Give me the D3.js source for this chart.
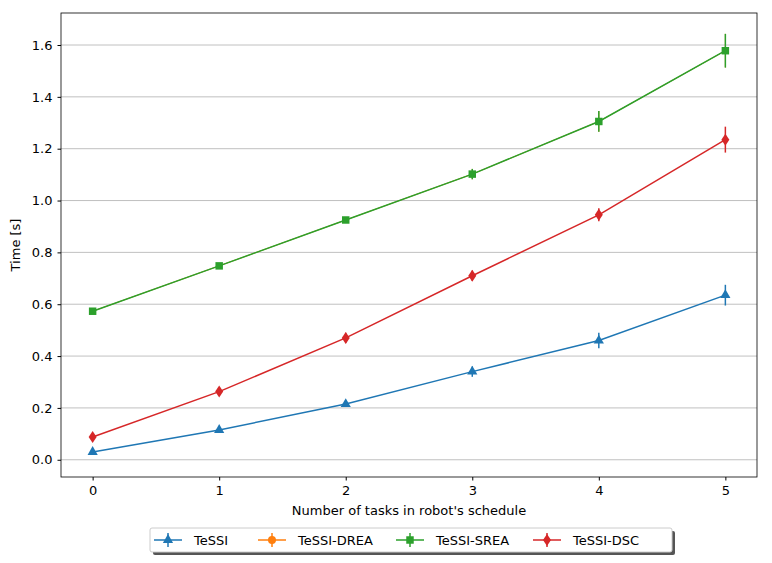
<!DOCTYPE html>
<html><head><meta charset="utf-8">
<script src="https://cdn.jsdelivr.net/npm/d3@7"></script>
<style>body{margin:0;background:#fff}text{font-family:"DejaVu Sans",sans-serif}</style>
</head><body><svg id="c" width="772" height="563"></svg>
<script>
const xCats=[0,1,2,3,4,5];
const yTicks=[0,0.2,0.4,0.6,0.8,1.0,1.2,1.4,1.6];
const seriesNames=["TeSSI","TeSSI-DREA","TeSSI-SREA","TeSSI-DSC"];
const colors=["#1f77b4","#ff7f0e","#2ca02c","#d62728"];
const symbols=["triangle","circle","square","diamond"];
const tessi=[0.03,0.115,0.215,0.34,0.46,0.635];
const tessiErr=[0.008,0.008,0.01,0.02,0.03,0.04];
const drea=[0.573,0.748,0.925,1.102,1.305,1.578];
const dreaErr=[0.01,0.01,0.01,0.02,0.04,0.065];
const srea=[0.573,0.748,0.925,1.102,1.305,1.578];
const sreaErr=[0.01,0.01,0.01,0.02,0.04,0.065];
const dsc=[0.088,0.263,0.47,0.71,0.945,1.235];
const dscErr=[0.01,0.015,0.02,0.02,0.025,0.05];
const vals=[tessi,drea,srea,dsc], errs=[tessiErr,dreaErr,sreaErr,dscErr];
const FS=13;
const svg=d3.select("#c");
const L=61,R=757,T=13,B=477;
const x=d3.scaleLinear().domain([-0.25,5.25]).range([L,R]);
const y=d3.scaleLinear().domain([-0.0665,1.7235]).range([B,T]);
svg.append("g").selectAll("line").data(yTicks).join("line")
 .attr("x1",L).attr("x2",R).attr("y1",d=>y(d)).attr("y2",d=>y(d)).attr("stroke","#b0b0b0").attr("stroke-width",0.8);
const xa=svg.append("g").attr("transform",`translate(0,${B})`).call(d3.axisBottom(x).tickValues(xCats).tickFormat(d3.format("d")).tickSizeOuter(0).tickSize(3.5).tickPadding(5));
const ya=svg.append("g").attr("transform",`translate(${L},0)`).call(d3.axisLeft(y).tickValues(yTicks).tickFormat(d3.format(".1f")).tickSizeOuter(0).tickSize(3.5).tickPadding(5));
[xa,ya].forEach(a=>{a.select(".domain").remove();a.selectAll("text").attr("font-size",FS).attr("fill","#000").attr("font-family","DejaVu Sans");});
svg.append("rect").attr("x",L).attr("y",T).attr("width",R-L).attr("height",B-T).attr("fill","none").attr("stroke","#000").attr("stroke-width",0.8);
svg.append("text").attr("x",(L+R)/2).attr("y",515).attr("text-anchor","middle").attr("font-size",FS).text("Number of tasks in robot's schedule");
svg.append("text").attr("transform",`translate(20,${(T+B)/2}) rotate(-90)`).attr("text-anchor","middle").attr("font-size",FS).text("Time [s]");
const symMap={triangle:d3.symbolTriangle,circle:d3.symbolCircle,square:d3.symbolSquare,diamond:d3.symbolDiamond};
function marker(g,t,cx,cy,c,s=1){
 if(t==="diamond"){g.append("path").attr("d",`M${cx},${cy-6}L${cx+4},${cy}L${cx},${cy+6}L${cx-4},${cy}Z`).attr("fill",c);}
 else g.append("path").attr("transform",`translate(${cx},${cy}) scale(${s})`).attr("d",d3.symbol(symMap[t],t==="square"?56:t==="circle"?50:45)()).attr("fill",c);
}
vals.forEach((v,i)=>{
 const g=svg.append("g");
 const hidden=i===1;
 const sw=hidden?1.0:1.5;
 g.append("path").datum(v).attr("fill","none").attr("stroke",colors[i]).attr("stroke-width",sw)
  .attr("d",d3.line().x((d,j)=>x(xCats[j])).y(d=>y(d)));
 v.forEach((d,j)=>{
  g.append("line").attr("x1",x(xCats[j])).attr("x2",x(xCats[j])).attr("y1",y(d-errs[i][j])).attr("y2",y(d+errs[i][j])).attr("stroke",colors[i]).attr("stroke-width",sw);
  marker(g,symbols[i],x(xCats[j]),y(d),colors[i],hidden?0.7:1);
 });
});
const lg=svg.append("g");
lg.append("rect").attr("x",153).attr("y",531).attr("width",522).attr("height",24).attr("fill","#555").attr("rx",2);
lg.append("rect").attr("x",150).attr("y",528).attr("width",522).attr("height",24).attr("fill","#fff").attr("stroke","#ccc").attr("rx",2);
const lx=[154,258,396,533];
seriesNames.forEach((n,i)=>{
 const g=lg.append("g");
 g.append("line").attr("x1",lx[i]).attr("x2",lx[i]+28).attr("y1",540).attr("y2",540).attr("stroke",colors[i]).attr("stroke-width",1.5);
 g.append("line").attr("x1",lx[i]+14).attr("x2",lx[i]+14).attr("y1",533).attr("y2",547).attr("stroke",colors[i]).attr("stroke-width",1.5);
 marker(g,symbols[i],lx[i]+14,540,colors[i]);
 g.append("text").attr("x",lx[i]+40).attr("y",545).attr("font-size",FS).text(n);
});
</script></body></html>
